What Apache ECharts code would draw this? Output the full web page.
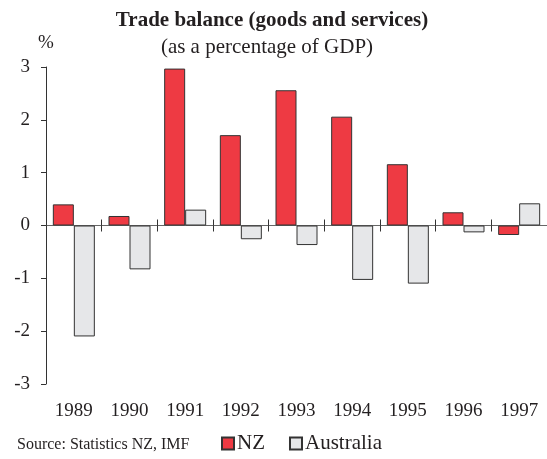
<!DOCTYPE html>
<html>
<head>
<meta charset="utf-8">
<script src="https://cdn.jsdelivr.net/npm/echarts@6/dist/echarts.min.js"></script>
<style>
  html, body { margin: 0; padding: 0; background: #fff; }
  #chart { width: 547px; height: 459px; }
</style>
</head>
<body>
<div id="chart"></div>
<script>
// data
var years = ['1989', '1990', '1991', '1992', '1993', '1994', '1995', '1996', '1997'];
var nz = [0.4, 0.18, 2.97, 1.71, 2.56, 2.06, 1.16, 0.25, -0.18];
var australia = [-2.1, -0.83, 0.3, -0.26, -0.37, -1.03, -1.1, -0.13, 0.42];
var yTicks = [-3, -2, -1, 0, 1, 2, 3];

var font = 'Liberation Serif';
var ink = '#231f20';

var chart = echarts.init(document.getElementById('chart'));

var option = {
  animation: false,
  textStyle: { fontFamily: font, color: ink },
  title: [
    {
      text: 'Trade balance (goods and services)',
      left: 267, top: 5, textAlign: 'center',
      textStyle: { fontFamily: font, fontSize: 21, fontWeight: 'bold', color: ink }
    },
    {
      text: '(as a percentage of GDP)',
      left: 262, top: 32, textAlign: 'center',
      textStyle: { fontFamily: font, fontSize: 21, fontWeight: 'normal', color: ink }
    },
    {
      text: 'Source: Statistics NZ, IMF',
      left: 12, top: 432,
      textStyle: { fontFamily: font, fontSize: 16, fontWeight: 'normal', color: ink }
    }
  ],
  legend: {
    data: ['NZ', 'Australia'],
    left: 216, top: 428,
    icon: 'rect',
    itemWidth: 12, itemHeight: 12,
    itemGap: 24,
    textStyle: { fontFamily: font, fontSize: 21, color: ink, padding: [2, 0, 0, -2] }
  },
  grid: { left: 46, right: -2, top: 67, bottom: 75, containLabel: false },
  xAxis: [
    {
      // zero line with ticks pointing down
      type: 'category', data: years,
      axisLine: { onZero: true, lineStyle: { color: '#666', width: 1 } },
      axisTick: { show: true, length: 6, lineStyle: { color: '#333' } },
      axisLabel: { show: false }
    },
    {
      // same ticks pointing up, moved down onto the zero line
      type: 'category', data: years, position: 'top', offset: -158.5,
      axisLine: { show: false, onZero: false },
      axisTick: { show: true, length: 6, lineStyle: { color: '#333' } },
      axisLabel: { show: false }
    },
    {
      // year labels under the plot
      type: 'category', data: years, position: 'bottom',
      axisLine: { show: false, onZero: false },
      axisTick: { show: false },
      axisLabel: { fontFamily: font, fontSize: 19, color: ink, margin: 18 }
    }
  ],
  yAxis: {
    type: 'value', min: -3, max: 3, interval: 1,
    name: '%', nameLocation: 'end', nameGap: 14,
    nameTextStyle: { fontFamily: font, fontSize: 19, color: ink, align: 'center' },
    splitLine: { show: false },
    axisLine: { show: true, lineStyle: { color: '#333' } },
    axisTick: { show: true, length: 5, lineStyle: { color: '#333' } },
    axisLabel: {
      fontFamily: font, fontSize: 19, color: ink, margin: 16,
      formatter: function (v) { return yTicks.indexOf(v) >= 0 ? String(v) : ''; }
    }
  },
  series: [
    {
      name: 'NZ', type: 'bar', data: nz,
      barWidth: 21, barGap: '0%',
      itemStyle: { color: '#ee3a43', borderColor: '#333', borderWidth: 1 }
    },
    {
      name: 'Australia', type: 'bar', data: australia,
      barWidth: 21, barGap: '0%',
      itemStyle: { color: '#e6e7e9', borderColor: '#333', borderWidth: 1 }
    }
  ]
};

chart.setOption(option);
</script>
</body>
</html>
